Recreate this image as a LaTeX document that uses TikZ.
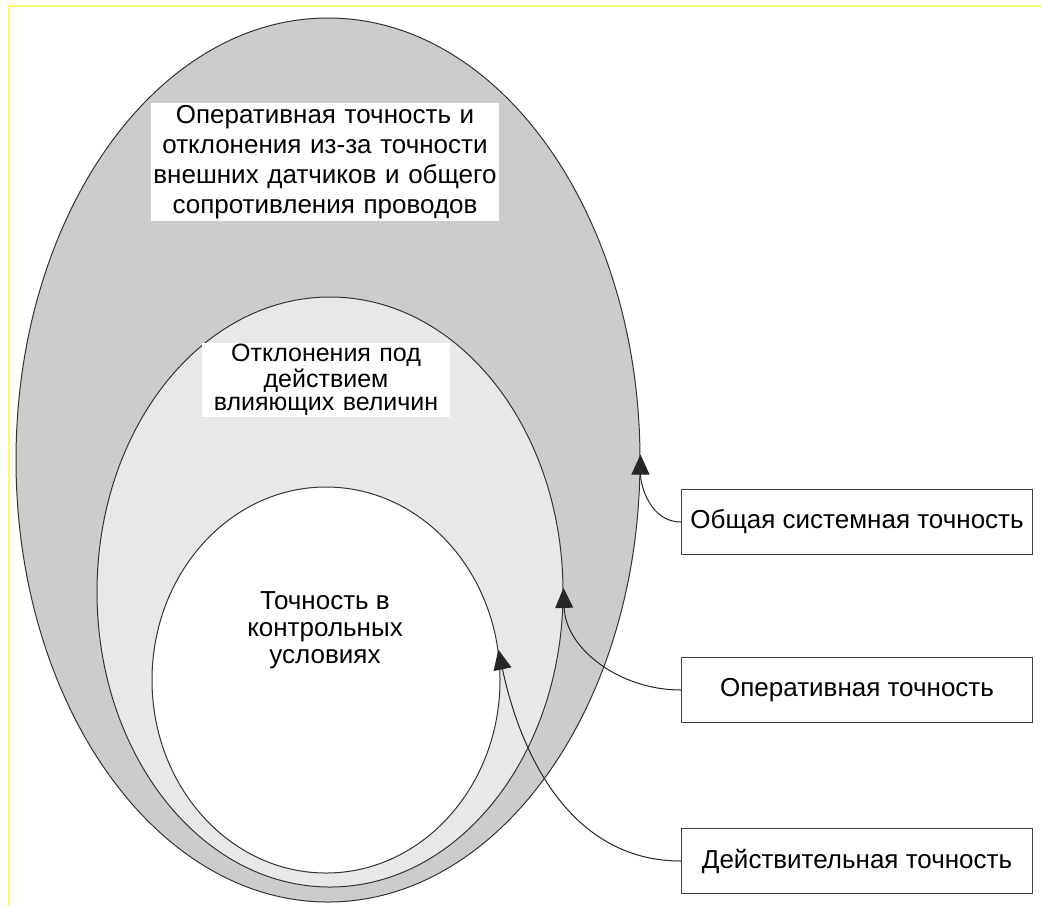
\documentclass[tikz,border=0pt]{standalone}
\usepackage{fontspec}
\setmainfont{Liberation Sans}
\usetikzlibrary{arrows.meta,shapes.geometric}

\begin{document}
\begin{tikzpicture}[x=0.5pt,y=-0.5pt,
	zone/.style={ellipse,draw=black!80,line width=0.5pt,inner sep=0pt},
	lbl/.style={fill=white,align=center,inner sep=1pt,font=\fontsize{13}{15}\selectfont},
	sidebox/.style={draw=black!75,line width=0.6pt,fill=white,minimum width=175.5pt,minimum height=32.5pt,inner sep=0pt,font=\fontsize{13}{15}\selectfont},
	conn/.style={-{Triangle[length=10pt,width=9pt]},line width=0.5pt,black!85}]
	\useasboundingbox (0,0) rectangle (1042,906);
	\draw[yellow!55,line width=1pt] (9,906) -- (9,6) -- (1042,6);
	% nested zones
	\node[zone,fill=black!20,minimum width=312pt,minimum height=442pt] (outer) at (328,460) {};
	\node[zone,fill=black!9,minimum width=233pt,minimum height=295pt] (mid) at (330,592) {};
	\node[zone,fill=white,minimum width=174pt,minimum height=193pt] (inner) at (326,680) {};
	% zone labels
	\node[lbl,text width=172pt,minimum height=59pt] (outertxt) at (325,162)
		{Оперативная точность и\\ отклонения из-за точности\\ внешних датчиков и общего\\ сопротивления проводов};
	\node[lbl,text width=122pt,font=\fontsize{12.5}{11.5}\selectfont] (midtxt) at (326,380)
		{Отклонения под\\ действием\\ влияющих величин};
	\node[align=center,font=\fontsize{13}{13.5}\selectfont] (innertxt) at (325,630)
		{Точность в\\ контрольных\\ условиях};
	% side boxes
	\node[sidebox] (sys) at (857,522) {Общая системная точность};
	\node[sidebox] (oper) at (857,690) {Оперативная точность};
	\node[sidebox] (real) at (857,861) {Действительная точность};
	\draw[conn] (sys.west) to[out=180,in=-90] (outer.1);
	\draw[conn] (oper.west) to[out=180,in=-88] (mid.1);
	\draw[conn] (real.west) to[out=180,in=-78] (inner.10);
\end{tikzpicture}
\end{document}
